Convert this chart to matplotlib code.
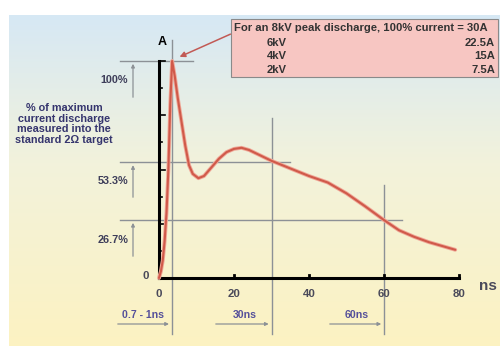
import numpy as np
import matplotlib
matplotlib.use("Agg")
import matplotlib.pyplot as plt
from matplotlib.patches import Rectangle

# current waveform (ns, fraction of peak)
time_ns = [0, 0.5, 1.0, 1.5, 2.0, 2.5, 3.0, 3.5, 4.2, 5.0, 6.0, 7.0, 8.0, 9.0,
           10.5, 12, 14, 16, 18, 20, 22, 24, 27, 30, 35, 40, 45, 50, 55, 60,
           64, 68, 72, 76, 79]
current = [0, 0.03, 0.08, 0.17, 0.30, 0.50, 0.80, 1.00, 0.93, 0.83, 0.72, 0.61,
           0.52, 0.48, 0.46, 0.47, 0.51, 0.55, 0.58, 0.595, 0.60, 0.59, 0.565,
           0.54, 0.505, 0.47, 0.44, 0.39, 0.33, 0.267, 0.22, 0.19, 0.165,
           0.145, 0.13]

levels = [1.0, 0.533, 0.267]
level_labels = ["100%", "53.3%", "26.7%"]
marker_times = [3.4, 30, 60]
marker_labels = ["0.7 - 1ns", "30ns", "60ns"]
x_ticks = [0, 20, 40, 60, 80]

box_header = "For an 8kV peak discharge, 100% current = 30A"
box_kv = ["6kV", "4kV", "2kV"]
box_amps = ["22.5A", "15A", "7.5A"]

# pixel <-> data helpers (figure is 500x346, x0 at px 159, y0 at px 278)
def px(p):
    return (p - 159) / 3.75

def py(p):
    return (278 - p) / 217

fig = plt.figure(figsize=(5, 3.46), dpi=100)
ax = fig.add_axes([0, 0, 1, 1])
ax.set_xlim(px(0), px(500))
ax.set_ylim(py(346), py(0))
ax.axis("off")

# background gradient
top = np.array([0.84, 0.91, 0.96])
mid = np.array([0.95, 0.95, 0.86])
bot = np.array([0.99, 0.95, 0.76])
t = np.linspace(0, 1, 200)[:, None]
grad = np.where(t < 0.45, top + (mid - top) * (t / 0.45),
                mid + (bot - mid) * ((t - 0.45) / 0.55))
ax.imshow(grad[:, None, :].repeat(2, axis=1),
          extent=[px(9), px(500), py(346), py(15)], aspect="auto", zorder=0)

gray = "#8c9196"
txt = "#3e3e5a"
fs = dict(family="Liberation Sans", fontweight="bold")

# reference lines
for lv, lab in zip(levels, level_labels):
    right = {1.0: px(193), 0.533: px(290), 0.267: px(402)}[lv]
    ax.plot([px(120), right], [lv, lv], color=gray, lw=1, zorder=2)
ax.plot([marker_times[0]] * 2, [py(40), py(334)], color=gray, lw=1, zorder=2)
ax.plot([marker_times[1]] * 2, [py(118), py(334)], color=gray, lw=1, zorder=2)
ax.plot([marker_times[2]] * 2, [py(185), py(334)], color=gray, lw=1, zorder=2)

# percent labels and small arrows
label_y = [py(80), py(181), py(240)]
arrow_end = [py(100), py(200), py(259)]
for lv, lab, ly, ae in zip(levels, level_labels, label_y, arrow_end):
    ax.text(px(128), ly, lab, ha="right", va="center", fontsize=7.8,
            color=txt, **fs)
    ax.annotate("", xy=(px(133), lv), xytext=(px(133), ae),
                arrowprops=dict(arrowstyle="-|>", color=gray, lw=0.9,
                                mutation_scale=5), zorder=3)

# bottom time arrows
starts = [px(115), px(213), px(327)]
label_x = [px(143), px(245), px(357)]
for mt, lab, s, lx in zip(marker_times, marker_labels, starts, label_x):
    ax.annotate("", xy=(mt, py(324)), xytext=(s, py(324)),
                arrowprops=dict(arrowstyle="-|>", color=gray, lw=0.9,
                                mutation_scale=5), zorder=3)
    ax.text(lx, py(315), lab, ha="center", va="center", fontsize=7.6,
            color="#55509a", **fs)

# axes lines
ax.plot([0, 0], [0, 1.0], color="black", lw=2.2, zorder=4)
ax.plot([0, 80], [0, 0], color="black", lw=2.2, zorder=4)
for yt in np.arange(0.125, 1.01, 0.125):
    ln = 1.6 if abs(yt * 4 - round(yt * 4)) < 1e-6 else 0.8
    ax.plot([0, ln], [yt, yt], color="black", lw=1.2, zorder=4)
for xt in x_ticks[1:]:
    ax.plot([xt, xt], [0, 0.015], color="black", lw=2, zorder=4)
    ax.text(xt, py(294), str(xt), ha="center", va="center", fontsize=8.2,
            color="#4a4a5a", **fs)
ax.text(0, py(294), "0", ha="center", va="center", fontsize=8.2,
        color="#4a4a5a", **fs)
ax.text(px(146), 0.01, "0", ha="center", va="center", fontsize=8.2,
        color="#4a4a5a", **fs)
ax.text(px(488), py(286), "ns", ha="center", va="center", fontsize=11,
        color="#4a4a5a", **fs)
ax.text(px(162), py(42), "A", ha="center", va="center", fontsize=9,
        color="black", **fs)

# waveform
ax.plot(time_ns, current, color="#f0a898", lw=2.8, zorder=5,
        solid_capstyle="round", solid_joinstyle="round")
ax.plot(time_ns, current, color="#d05a4a", lw=1.5, zorder=6,
        solid_capstyle="round", solid_joinstyle="round")

# left description
ax.text(px(64), py(124),
        "% of maximum\ncurrent discharge\nmeasured into the\nstandard 2\u03a9 target",
        ha="center", va="center", fontsize=7.8, color="#35356e",
        linespacing=1.1, **fs)

# info box
ax.add_patch(Rectangle((px(231), py(77)), px(498) - px(231), py(19) - py(77),
                       facecolor="#f7c6c2", edgecolor="#8a8a8a", lw=0.8,
                       zorder=7))
ax.text(px(234), py(28), box_header, ha="left", va="center", fontsize=8.1,
        color="#333333", zorder=8, **fs)
for i, (kv, amp) in enumerate(zip(box_kv, box_amps)):
    yy = py(43 + 13.5 * i)
    ax.text(px(267), yy, kv, ha="left", va="center", fontsize=8.1,
            color="#333333", zorder=8, **fs)
    ax.text(px(495), yy, amp, ha="right", va="center", fontsize=8.1,
            color="#333333", zorder=8, **fs)
ax.annotate("", xy=(px(177), py(58)), xytext=(px(233), py(33)),
            arrowprops=dict(arrowstyle="-|>", color="#c25a55", lw=1.1,
                            mutation_scale=8), zorder=8)

fig.savefig("out.png", dpi=100)
